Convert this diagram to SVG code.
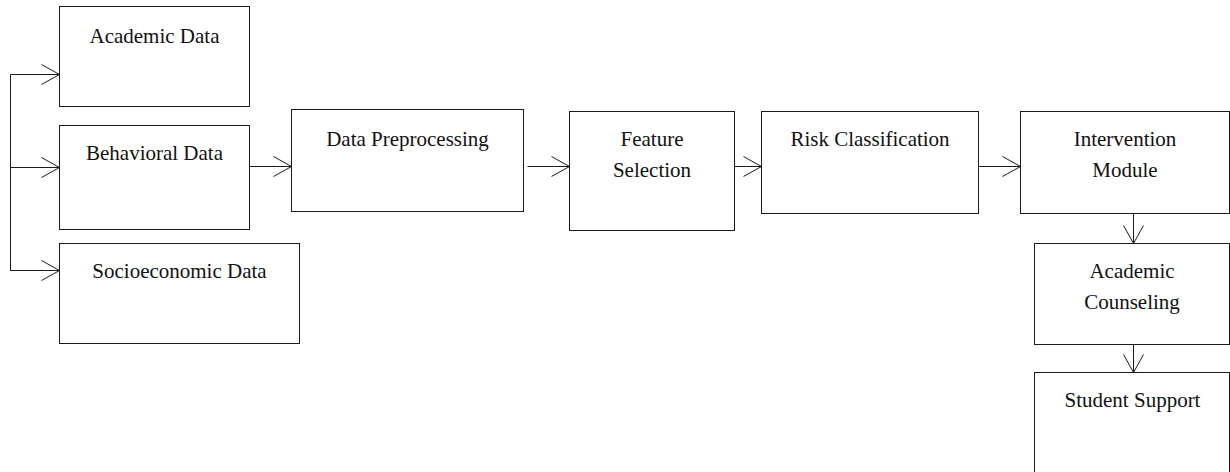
<svg xmlns="http://www.w3.org/2000/svg" width="1230" height="472" viewBox="0 0 1230 472">
  <style>
    .box { fill: #ffffff; stroke: #1a1a1a; stroke-width: 1; }
    .lbl { font-family: "Liberation Serif", "Times New Roman", serif; font-size: 21px; fill: #111111; text-anchor: middle; }
    .conn { fill: none; stroke: #1a1a1a; stroke-width: 1; }
  </style>
  <defs>
    <marker id="arrow" markerUnits="userSpaceOnUse" markerWidth="20" markerHeight="22" viewBox="0 0 20 22" refX="18.5" refY="10.5" orient="auto">
      <path d="M0.5,0.5 L18.5,10.5 L0.5,20.5" fill="none" stroke="#1a1a1a" stroke-width="1"/>
    </marker>
  </defs>
  <rect x="0" y="0" width="1230" height="472" fill="#ffffff"/>

  <g id="connectors">
    <path class="conn" d="M10.5,74.5 V270.5"/>
    <path class="conn" d="M10.5,74.5 H59.5" marker-end="url(#arrow)"/>
    <path class="conn" d="M10.5,167.5 H59.5" marker-end="url(#arrow)"/>
    <path class="conn" d="M10.5,270.5 H59.5" marker-end="url(#arrow)"/>
    <path class="conn" d="M249.5,166.5 H291.5" marker-end="url(#arrow)"/>
    <path class="conn" d="M527.5,166.5 H569.5" marker-end="url(#arrow)"/>
    <path class="conn" d="M734.5,166.5 H761.5" marker-end="url(#arrow)"/>
    <path class="conn" d="M978.5,166.5 H1020.5" marker-end="url(#arrow)"/>
    <path class="conn" d="M1133.5,213.5 V243.5" marker-end="url(#arrow)"/>
    <path class="conn" d="M1133.5,344.5 V372.5" marker-end="url(#arrow)"/>
  </g>

  <g id="academic-data">
    <rect class="box" x="59.5" y="6.5" width="190" height="100"/>
    <text class="lbl" x="154.5" y="43">Academic Data</text>
  </g>
  <g id="behavioral-data">
    <rect class="box" x="59.5" y="125.5" width="190" height="104"/>
    <text class="lbl" x="154.5" y="160">Behavioral Data</text>
  </g>
  <g id="socioeconomic-data">
    <rect class="box" x="59.5" y="243.5" width="240" height="100"/>
    <text class="lbl" x="179.5" y="278">Socioeconomic Data</text>
  </g>
  <g id="data-preprocessing">
    <rect class="box" x="291.5" y="109.5" width="232" height="102"/>
    <text class="lbl" x="407.5" y="146">Data Preprocessing</text>
  </g>
  <g id="feature-selection">
    <rect class="box" x="569.5" y="111.5" width="165" height="119"/>
    <text class="lbl" x="652" y="146">Feature</text>
    <text class="lbl" x="652" y="177">Selection</text>
  </g>
  <g id="risk-classification">
    <rect class="box" x="761.5" y="111.5" width="217" height="102"/>
    <text class="lbl" x="870" y="146">Risk Classification</text>
  </g>
  <g id="intervention-module">
    <rect class="box" x="1020.5" y="111.5" width="209" height="102"/>
    <text class="lbl" x="1125" y="146">Intervention</text>
    <text class="lbl" x="1125" y="177">Module</text>
  </g>
  <g id="academic-counseling">
    <rect class="box" x="1034.5" y="243.5" width="195" height="101"/>
    <text class="lbl" x="1132" y="277.5">Academic</text>
    <text class="lbl" x="1132" y="308.5">Counseling</text>
  </g>
  <g id="student-support">
    <rect class="box" x="1034.5" y="372.5" width="195" height="110"/>
    <text class="lbl" x="1132.5" y="407">Student Support</text>
  </g>
</svg>
